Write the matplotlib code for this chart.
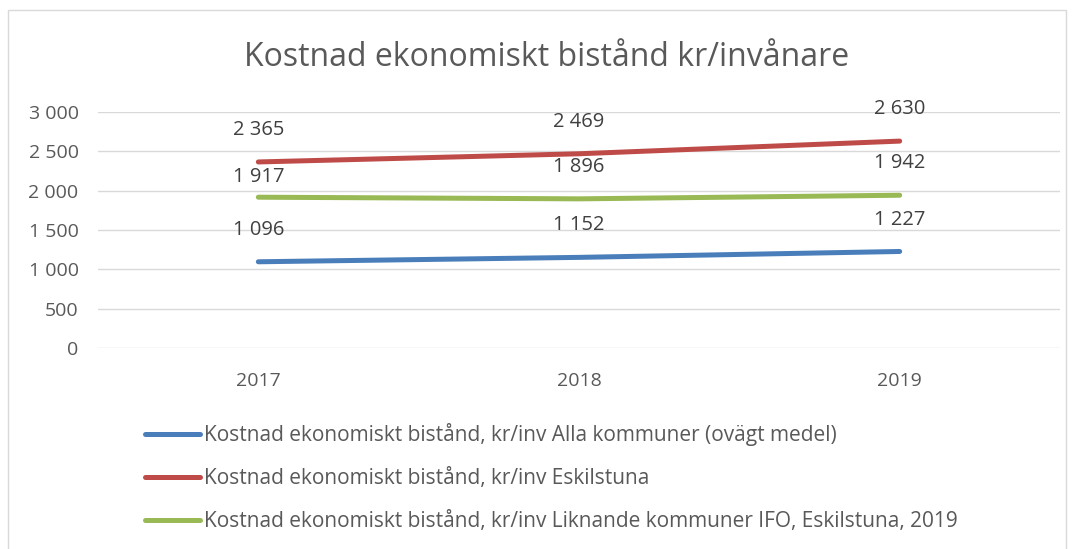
import matplotlib.pyplot as plt
from matplotlib.patches import Rectangle
from matplotlib.ticker import FuncFormatter

plt.rcParams['font.family'] = ['Open Sans', 'DejaVu Sans']

years = ['2017', '2018', '2019']
alla = [1096, 1152, 1227]
eskilstuna = [2365, 2469, 2630]
liknande = [1917, 1896, 1942]

names = [
    'Kostnad ekonomiskt bistånd, kr/inv Alla kommuner (ovägt medel)',
    'Kostnad ekonomiskt bistånd, kr/inv Eskilstuna',
    'Kostnad ekonomiskt bistånd, kr/inv Liknande kommuner IFO, Eskilstuna, 2019',
]
colors = ['#4a7ebb', '#be4b48', '#98b954']
series = [alla, eskilstuna, liknande]

W, H = 1073, 549
fig = plt.figure(figsize=(W / 100, H / 100), dpi=100)
fig.patches.append(Rectangle((8 / W, -0.1), (1066 - 8) / W, 1.1 - 10 / H,
                             transform=fig.transFigure, fill=False,
                             edgecolor='#d9d9d9', linewidth=1))

# plot area in pixels: x 98..1060, y 112 (3000) .. 348 (0)
ax = fig.add_axes([98 / W, 1 - 348 / H, (1060 - 98) / W, (348 - 112) / H])
x = range(len(years))
for si, (vals, c, name) in enumerate(zip(series, colors, names)):
    ax.plot(x, vals, color=c, linewidth=3.6, solid_capstyle='round', label=name)
    for xi, v in zip(x, vals):
        # Excel nudges the first green label down so it doesn't hit the red line
        dy = 14.5 if (si == 2 and xi == 0) else 23
        ax.annotate(f'{v:,}'.replace(',', ' '), (xi, v), xytext=(0, dy),
                    textcoords='offset points', ha='center', va='center',
                    fontsize=14.5, color='#404040')

ax.set_xlim(-0.5, 2.5)
ax.set_ylim(0, 3000)
ax.set_yticks(range(0, 3001, 500))
ax.yaxis.set_major_formatter(FuncFormatter(lambda v, p: f'{int(v):,}'.replace(',', ' ')))
ax.set_xticks(list(x))
ax.set_xticklabels(years)
ax.grid(axis='y', color='#d9d9d9', linewidth=1)
ax.set_axisbelow(True)
for s in ax.spines.values():
    s.set_visible(False)
ax.tick_params(length=0, labelsize=14, labelcolor='#595959')
ax.tick_params(axis='y', pad=14)
ax.tick_params(axis='x', pad=17)

fig.text(547 / W, 1 - 58 / H, 'Kostnad ekonomiskt bistånd kr/invånare',
         ha='center', va='center', fontsize=23, color='#595959')

fig.legend(loc='upper left', bbox_to_anchor=(137 / W, 1 - 415 / H), frameon=False,
           fontsize=15, labelcolor='#595959', handlelength=2.6, handletextpad=0.24,
           labelspacing=1.05, borderaxespad=0)

fig.savefig('out.png', dpi=100)
